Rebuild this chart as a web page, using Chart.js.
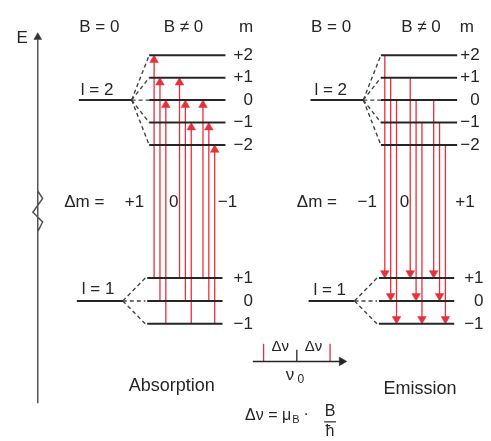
<!DOCTYPE html>
<html>
<head>
<meta charset="utf-8">
<script src="https://cdn.jsdelivr.net/npm/chart.js@4.4.0/dist/chart.umd.min.js"></script>
<style>
  html, body { margin: 0; padding: 0; background: #fff; }
  #wrap { width: 491px; height: 441px; position: relative; }
</style>
</head>
<body>
<div id="wrap"><canvas id="zeemanChart"></canvas></div>
<script>
// ====== 1. DATA ======
const upperM = [2, 1, 0, -1, -2];            // l = 2 sublevels
const lowerM = [1, 0, -1];                   // l = 1 sublevels
const upperLabels = ['+2', '+1', '0', '−1', '−2'];
const lowerLabels = ['+1', '0', '−1'];

// absorption: lower m -> upper m (grouped by Δm)
const absFrom = [1, 0, -1, 1, 0, -1, 1, 0, -1];
const absTo   = [2, 1, 0, 1, 0, -1, 0, -1, -2];
const absGroupLabels = ['+1', '0', '−1'];

// emission: upper m -> lower m
const emFrom = [2, 1, 0, 1, 0, -1, 0, -1, -2];
const emTo   = [1, 0, -1, 1, 0, -1, 1, 0, -1];
const emGroupLabels = ['−1', '0', '+1'];

// spectrum lines, in units of Δν around ν0
const spectrumShift = [-1, 0, 1];

// ====== 2. LAYOUT ======
const RED = '#e8303a';
const INK = '#262626';
const FONT = '"Liberation Sans", Arial, sans-serif';
const ARROW_R = 5;
const upperY = m => 97 - m * 23;
const lowerY = m => 303 - m * 23.5;
const groupX = [152, 178, 202];

const panels = [
  { dx: 0, arrowDx: 0, from: absFrom, to: absTo, up: true, groups: absGroupLabels },
  { dx: 237, arrowDx: 236, from: emFrom, to: emTo, up: false, groups: emGroupLabels }
];

const datasets = [];
function seg(pts, color, width, dash) {
  datasets.push({
    data: pts.map(([x, y]) => ({ x, y })),
    showLine: true, borderColor: color, borderWidth: width,
    borderDash: dash || [], pointRadius: 0, tension: 0, fill: false, clip: false
  });
}
function heads(pts, rotation, color, r) {
  datasets.push({
    data: pts.map(([x, y]) => ({ x, y })),
    showLine: false, pointStyle: 'triangle', pointRadius: r, pointRotation: rotation,
    backgroundColor: color, borderColor: color, borderWidth: 0.5, clip: false
  });
}

panels.forEach(p => {
  const dx = p.dx;
  // upper term
  seg([[75 + dx, 97], [129 + dx, 97]], INK, 2);
  upperM.forEach(m => {
    seg([[147 + dx, upperY(m)], [225 + dx, upperY(m)]], INK, 2);
    seg([[129 + dx, 97], [147 + dx, upperY(m)]], '#444', 1.4, [4, 3]);
  });
  // lower term
  seg([[73 + dx, 303], [120 + dx, 303]], INK, 2);
  lowerM.forEach(m => {
    seg([[145 + dx, lowerY(m)], [222 + dx, lowerY(m)]], INK, 2);
    seg([[120 + dx, 303], [143 + dx, lowerY(m)]], '#444', 1.4, [4, 3]);
  });
  // transitions
  const tips = [];
  p.from.forEach((f, i) => {
    const x = groupX[Math.floor(i / 3)] + (i % 3) * 6 + p.arrowDx;
    const t = p.to[i];
    if (p.up) {
      seg([[x, lowerY(f)], [x, upperY(t) + ARROW_R]], RED, 1.3);
      tips.push([x, upperY(t) + ARROW_R]);
    } else {
      seg([[x, upperY(f)], [x, lowerY(t) - ARROW_R]], RED, 1.3);
      tips.push([x, lowerY(t) - ARROW_R]);
    }
  });
  heads(tips, p.up ? 0 : 180, RED, ARROW_R);
});

// energy axis with break
seg([[33, 408], [33, 190], [38, 198], [28, 212], [38, 222], [33, 232], [33, 408]], '#555', 1.5);
seg([[33, 190], [33, 34]], '#555', 1.5);
heads([[33, 32.5]], 0, '#333', 4.5);

// frequency axis
seg([[253, 365], [344, 365]], INK, 1.5);
heads([[344, 365]], 90, INK, 5);
spectrumShift.forEach(s => {
  const x = 298 + s * 34;
  seg([[x, 365], [x, s === 0 ? 353 : 347]], s === 0 ? INK : RED, 1.3);
});

// ====== 3. TEXT ======
const texts = [
  ['E', 17, 34, 17, 'center'],
  ['B = 0', 96, 22, 17, 'center'], ['B ≠ 0', 182, 22, 17, 'center'], ['m', 246, 22, 17, 'center'],
  ['B = 0', 333, 22, 17, 'center'], ['B ≠ 0', 425, 22, 17, 'center'], ['m', 472, 22, 17, 'center'],
  ['l = 2', 77, 87, 17, 'left'], ['l = 2', 316, 87, 17, 'left'],
  ['l = 1', 78, 291, 17, 'left'], ['l = 1', 315, 292, 17, 'left'],
  ['Δm =', 60, 202, 17, 'left'], ['Δm =', 298, 202, 17, 'left'],
  ['Absorption', 170, 390, 18, 'center'], ['Emission', 424, 393, 18, 'center'],
  ['Δν', 281, 350, 15, 'center'], ['Δν', 315, 350, 15, 'center'],
  ['ν', 291, 379, 17, 'center'], ['0', 302, 384, 12, 'center'],
  ['B', 332, 416, 16, 'center'], ['ħ', 332, 437, 16, 'center']
];
upperLabels.forEach((t, i) => {
  texts.push([t, 253, upperY(upperM[i]), 17, 'right']);
  texts.push([t, 485, upperY(upperM[i]), 17, 'right']);
});
lowerLabels.forEach((t, i) => {
  texts.push([t, 253, lowerY(lowerM[i]), 17, 'right']);
  texts.push([t, 489, lowerY(lowerM[i]), 17, 'right']);
});
[132, 172, 227].forEach((x, i) => texts.push([absGroupLabels[i], x, 202, 17, 'center']));
[370, 408, 470].forEach((x, i) => texts.push([emGroupLabels[i], x, 202, 17, 'center']));

const textPlugin = {
  id: 'diagramText',
  afterDatasetsDraw(chart) {
    const ctx = chart.ctx;
    const sx = v => chart.scales.x.getPixelForValue(v);
    const sy = v => chart.scales.y.getPixelForValue(v);
    ctx.save();
    ctx.fillStyle = INK;
    ctx.textBaseline = 'middle';
    texts.forEach(([t, x, y, size, align]) => {
      ctx.font = size + 'px ' + FONT;
      ctx.textAlign = align;
      ctx.fillText(t, sx(x), sy(y));
    });
    // formula Δν = μB · B/ħ
    ctx.textAlign = 'left';
    ctx.font = '16px ' + FONT;
    let x = sx(245);
    const main = 'Δν = μ';
    ctx.fillText(main, x, sy(421));
    x += ctx.measureText(main).width + 1;
    ctx.font = '11px ' + FONT;
    ctx.fillText('B', x, sy(425));
    x += ctx.measureText('B').width + 4;
    ctx.font = '16px ' + FONT;
    ctx.fillText('·', x, sy(420));
    ctx.strokeStyle = INK;
    ctx.lineWidth = 1.2;
    ctx.beginPath();
    ctx.moveTo(sx(326), sy(427));
    ctx.lineTo(sx(338), sy(427));
    ctx.stroke();
    ctx.restore();
  }
};

// ====== 4. CHART ======
new Chart(document.getElementById('zeemanChart'), {
  type: 'scatter',
  data: { datasets },
  options: {
    responsive: true,
    maintainAspectRatio: false,
    animation: false,
    events: [],
    layout: { padding: 0 },
    plugins: { legend: { display: false }, tooltip: { enabled: false } },
    scales: {
      x: { type: 'linear', min: 0, max: 491, display: false },
      y: { type: 'linear', min: 0, max: 441, reverse: true, display: false }
    }
  },
  plugins: [textPlugin]
});
</script>
</body>
</html>
